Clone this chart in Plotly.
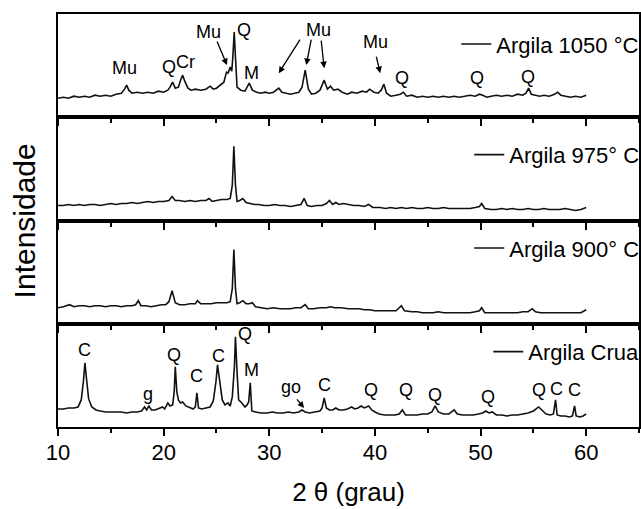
import plotly.graph_objects as go
from plotly.subplots import make_subplots

# ---------------- data (2θ in degrees, intensity in arbitrary units) ----------------
tt_1050 = [10.0, 10.5, 11.0, 11.5, 12.0, 12.5, 13.0, 13.5, 14.0, 14.5, 15.0, 15.5, 16.0, 16.3, 16.5, 16.7, 17.0, 17.5,
           18.0, 18.5, 19.0, 19.5, 20.0, 20.4, 20.6, 20.85, 21.1, 21.4, 21.6, 21.8, 22.0, 22.3, 22.6, 23.0, 23.5, 24.0,
           24.4, 24.7, 25.0, 25.4, 25.7, 25.95, 26.1, 26.3, 26.45, 26.55, 26.68, 26.8, 26.95, 27.3, 27.7, 28.1, 28.4,
           28.8, 29.2, 29.6, 30.0, 30.4, 30.9, 31.2, 31.6, 32.0, 32.4, 32.8, 33.1, 33.4, 33.7, 34.0, 34.4, 34.8, 35.2,
           35.5, 35.8, 36.1, 36.5, 36.9, 37.4, 37.8, 38.3, 38.8, 39.2, 39.5, 39.9, 40.3, 40.6, 40.85, 41.1, 41.5, 42.0,
           42.4, 42.7, 43.0, 43.5, 44.0, 44.5, 45.0, 45.5, 46.0, 46.5, 47.0, 47.5, 48.0, 48.5, 49.0, 49.5, 49.9, 50.2,
           50.6, 51.0, 51.5, 52.0, 52.5, 53.0, 53.5, 54.0, 54.3, 54.55, 54.8, 55.2, 55.6, 56.0, 56.5, 57.0, 57.3, 57.6,
           58.0, 58.5, 59.0, 59.5, 60.0]
i_1050 = [19, 20, 19, 21, 20, 21, 20, 22, 21, 22, 21, 23, 24, 28, 32, 27, 24, 25,
          24, 25, 24, 26, 25, 27, 30, 35, 29, 30, 37, 42, 36, 29, 27, 28, 27, 28,
          31, 28, 29, 32, 35, 45, 44, 50, 46, 60, 85, 60, 30, 27, 26, 34, 27,
          25, 24, 25, 24, 25, 29, 25, 24, 23, 24, 25, 30, 47, 28, 23, 24, 27, 37,
          28, 31, 27, 28, 25, 23, 25, 24, 26, 25, 28, 25, 24, 27, 33, 24, 21, 22,
          23, 25, 21, 22, 20, 21, 20, 21, 20, 21, 20, 21, 20, 21, 22, 21, 23, 22,
          20, 21, 22, 21, 22, 21, 23, 22, 24, 29, 23, 22, 21, 22, 21, 23, 25, 22,
          21, 20, 21, 20, 22]

tt_975 = [10.0, 10.5, 11.0, 11.5, 12.0, 12.5, 13.0, 13.5, 14.0, 14.5, 15.0, 15.5, 16.0, 16.5, 17.0, 17.5, 18.0, 18.5,
          19.0, 19.5, 20.0, 20.5, 20.8, 21.1, 21.5, 22.0, 22.5, 23.0, 23.5, 24.0, 24.3, 24.6, 25.0, 25.5, 26.0, 26.3,
          26.5, 26.65, 26.8, 26.95, 27.2, 27.5, 27.8, 28.2, 28.6, 29.0, 29.5, 30.0, 30.5, 31.0, 31.5, 32.0, 32.5, 33.0,
          33.3, 33.6, 34.0, 34.5, 35.0, 35.4, 35.7, 36.0, 36.3, 36.6, 37.0, 37.5, 38.0, 38.5, 39.0, 39.4, 39.8, 40.5,
          41.0, 41.5, 42.0, 42.5, 43.0, 43.5, 44.0, 44.5, 45.0, 45.5, 46.0, 46.5, 47.0, 47.5, 48.0, 48.5, 49.0, 49.5,
          49.9, 50.1, 50.4, 51.0, 51.5, 52.0, 52.5, 53.0, 53.5, 54.0, 54.5, 55.0, 55.5, 56.0, 56.5, 57.0, 57.5, 58.0,
          58.5, 59.0, 59.5, 60.0]
i_975 = [15, 15, 16, 15, 16, 15, 16, 16, 15, 16, 17, 16, 17, 17, 18, 17, 18, 19,
         18, 19, 19, 20, 24, 20, 20, 19, 20, 19, 20, 20, 22, 19, 20, 21, 21, 22,
         35, 74, 35, 19, 20, 22, 18, 17, 16, 16, 15, 15, 16, 15, 15, 14, 15, 16,
         22, 15, 14, 15, 15, 17, 20, 16, 18, 16, 17, 16, 15, 15, 14, 16, 13, 13,
         12, 13, 12, 13, 12, 13, 12, 12, 13, 12, 12, 13, 12, 12, 12, 12, 12, 13,
         14, 17, 12, 11, 11, 12, 11, 12, 11, 11, 12, 11, 11, 12, 11, 11, 11, 12,
         11, 10, 11, 13]

tt_900 = [10.0, 10.5, 11.1, 11.5, 12.0, 12.5, 13.0, 13.5, 14.0, 14.5, 15.0, 15.5, 16.0, 16.5, 17.0, 17.35, 17.6, 17.85,
          18.3, 18.8, 19.3, 19.8, 20.2, 20.5, 20.8, 21.1, 21.5, 22.0, 22.5, 23.0, 23.2, 23.5, 24.0, 24.5, 25.0, 25.5,
          26.0, 26.3, 26.5, 26.65, 26.8, 26.95, 27.2, 27.5, 27.8, 28.1, 28.4, 28.7, 29.2, 29.8, 30.4, 31.0, 31.5, 32.0,
          32.5, 33.0, 33.4, 33.7, 34.2, 34.8, 35.4, 35.8, 36.2, 36.8, 37.5, 38.0, 38.5, 39.0, 39.5, 40.0, 40.5, 41.0,
          41.5, 42.0, 42.5, 42.8, 43.5, 44.0, 44.5, 45.0, 45.5, 46.0, 46.5, 47.0, 47.5, 48.0, 48.5, 49.0, 49.5, 49.9,
          50.1, 50.4, 51.0, 51.5, 52.0, 52.5, 53.0, 53.5, 54.0, 54.5, 54.9, 55.2, 55.7, 56.5, 57.0, 57.5, 58.0, 58.5,
          59.0, 59.5, 60.0]
i_900 = [16, 17, 19, 17, 18, 18, 17, 18, 18, 17, 18, 18, 17, 18, 18, 19, 23, 18,
         18, 17, 18, 19, 19, 22, 33, 21, 19, 19, 20, 20, 23, 20, 20, 20, 21, 21,
         21, 22, 35, 74, 35, 20, 21, 23, 20, 20, 21, 17, 16, 15, 16, 15, 15, 15,
         16, 16, 19, 15, 15, 16, 16, 17, 16, 16, 15, 15, 15, 14, 14, 13, 13, 13,
         13, 13, 18, 13, 12, 12, 11, 11, 11, 12, 11, 11, 11, 11, 11, 11, 12, 13,
         16, 11, 11, 11, 11, 11, 11, 11, 12, 12, 15, 12, 11, 11, 11, 11, 11, 11,
         11, 11, 14]

tt_crua = [10.0, 10.5, 11.0, 11.5, 11.9, 12.2, 12.4, 12.55, 12.7, 12.9, 13.2, 13.6, 14.0, 14.5, 15.0, 15.5, 16.0, 16.5,
           17.0, 17.5, 17.9, 18.2, 18.4, 18.6, 18.85, 19.2, 19.6, 19.9, 20.1, 20.4, 20.6, 20.85, 21.0, 21.1, 21.25, 21.4,
           21.6, 21.8, 22.1, 22.5, 22.8, 23.0, 23.15, 23.3, 23.6, 24.0, 24.4, 24.7, 24.95, 25.1, 25.3, 25.55, 25.8, 26.1,
           26.3, 26.5, 26.7, 26.8, 26.95, 27.1, 27.4, 27.7, 27.9, 28.05, 28.2, 28.35, 28.7, 29.2, 29.8, 30.3, 30.8, 31.3,
           31.8, 32.3, 32.8, 33.1, 33.4, 33.8, 34.3, 34.8, 35.0, 35.2, 35.4, 35.7, 36.0, 36.3, 36.6, 37.0, 37.4, 37.8,
           38.1, 38.4, 38.7, 39.0, 39.4, 39.7, 40.0, 40.4, 40.9, 41.4, 41.9, 42.3, 42.6, 42.9, 43.4, 44.0, 44.5, 45.0,
           45.4, 45.7, 46.0, 46.5, 47.0, 47.5, 47.8, 48.3, 48.8, 49.3, 49.8, 50.2, 50.5, 50.8, 51.1, 51.5, 52.0, 52.5,
           53.0, 53.5, 54.0, 54.5, 55.0, 55.5, 55.8, 56.2, 56.6, 56.9, 57.1, 57.25, 57.6, 58.0, 58.4, 58.7, 58.9, 59.05,
           59.4, 59.7, 60.0]
i_crua = [18, 18, 19, 19, 20, 27, 45, 64, 48, 28, 20, 17, 16, 15, 15, 15, 15, 14,
          15, 15, 16, 20, 17, 21, 17, 17, 19, 20, 18, 24, 21, 22, 35, 60, 35, 27,
          24, 25, 21, 19, 18, 20, 34, 19, 18, 19, 20, 26, 45, 62, 45, 27, 22, 24,
          21, 30, 60, 90, 55, 27, 24, 20, 22, 25, 44, 16, 15, 14, 14, 15, 14, 14,
          15, 14, 15, 17, 15, 14, 15, 16, 19, 29, 19, 17, 17, 19, 17, 17, 18, 20,
          18, 19, 21, 19, 21, 17, 15, 13, 12, 12, 12, 13, 17, 12, 12, 12, 13, 13,
          15, 21, 15, 13, 13, 17, 13, 12, 12, 12, 13, 14, 16, 14, 15, 12, 12, 11,
          12, 12, 13, 14, 16, 20, 17, 13, 12, 13, 27, 12, 11, 11, 10, 11, 21, 11,
          10, 11, 13]

sample_names = ["Argila 1050 °C", "Argila 975° C", "Argila 900° C", "Argila Crua"]

# phase labels: (text, 2θ, intensity)
labels_1050 = [("Mu", 16.3, 49), ("Q", 20.5, 50), ("Cr", 22.1, 55), ("Mu", 24.2, 85), ("Q", 27.6, 87),
               ("M", 28.3, 44), ("Mu", 34.7, 87), ("Mu", 40.1, 75), ("Q", 42.6, 39), ("Q", 49.7, 39),
               ("Q", 54.5, 40)]
# arrows: (tail 2θ, tail intensity, head 2θ, head intensity)
arrows_1050 = [(25.0, 77, 26.0, 52), (33.0, 79, 30.9, 44), (34.0, 79, 33.5, 52), (34.9, 78, 35.2, 49),
               (40.1, 62, 40.5, 44)]
labels_crua = [("C", 12.5, 77), ("g", 18.5, 33), ("Q", 21.0, 72), ("C", 23.1, 51), ("C", 25.2, 71),
               ("Q", 27.7, 93), ("M", 28.3, 57), ("go", 32.1, 40), ("C", 35.2, 42), ("Q", 39.6, 37),
               ("Q", 42.9, 37), ("Q", 45.7, 32), ("Q", 50.7, 30), ("Q", 55.5, 37), ("C", 57.2, 38),
               ("C", 58.9, 37)]
arrows_crua = [(32.5, 29, 33.3, 19)]

# ---------------- figure ----------------
FONT = "Liberation Sans, Arial, Helvetica, sans-serif"
series = [(tt_1050, i_1050), (tt_975, i_975), (tt_900, i_900), (tt_crua, i_crua)]
legend_keys = ["legend", "legend2", "legend3", "legend4"]
legend_y = [0.927, 0.659, 0.433, 0.182]

fig = make_subplots(rows=4, cols=1, vertical_spacing=0)

for k, ((x, y), name) in enumerate(zip(series, sample_names)):
    fig.add_trace(go.Scatter(x=x, y=y, mode="lines", name=name,
                             line=dict(color="#111111", width=1.6),
                             legend=legend_keys[k], showlegend=True),
                  row=k + 1, col=1)

for k in range(4):
    fig.update_xaxes(range=[10, 65], tick0=10, dtick=10, ticks="outside", ticklen=7, tickwidth=1.5,
                     tickcolor="black", minor=dict(dtick=5, ticks="outside", ticklen=4, tickwidth=1.5,
                                                   tickcolor="black"),
                     showline=True, mirror=True, linewidth=2, linecolor="black",
                     showgrid=False, zeroline=False, showticklabels=(k == 3),
                     ticklabelstandoff=-2,
                     tickfont=dict(size=22, family=FONT, color="black"),
                     row=k + 1, col=1)
    fig.update_yaxes(range=[0, 103], showticklabels=False, ticks="", showline=True, mirror=True,
                     linewidth=2, linecolor="black", showgrid=False, zeroline=False,
                     row=k + 1, col=1)

fig.update_xaxes(title=dict(text="2 θ (grau)", font=dict(size=26, family=FONT, color="black"), standoff=18),
                 row=4, col=1)

layout_legends = {}
for k, key in enumerate(legend_keys):
    layout_legends[key] = dict(x=1.009, y=legend_y[k], xanchor="right", yanchor="middle",
                               bgcolor="rgba(0,0,0,0)", borderwidth=0,
                               font=dict(size=22, family=FONT, color="black"))
fig.update_layout(**layout_legends)

annotations = []
def add_labels(labels, xref, yref):
    for txt, xx, yy in labels:
        annotations.append(dict(x=xx, y=yy, xref=xref, yref=yref, text=txt, showarrow=False,
                                font=dict(size=18, family=FONT, color="black")))

def add_arrows(arrs, xref, yref):
    for x0, y0, x1, y1 in arrs:
        annotations.append(dict(x=x1, y=y1, ax=x0, ay=y0, xref=xref, yref=yref, axref=xref, ayref=yref,
                                text="", showarrow=True, arrowhead=2, arrowsize=1, arrowwidth=1.3,
                                arrowcolor="black"))

add_labels(labels_1050, "x", "y")
add_arrows(arrows_1050, "x", "y")
add_labels(labels_crua, "x4", "y4")
add_arrows(arrows_crua, "x4", "y4")

annotations.append(dict(x=-0.057, y=0.5, xref="paper", yref="paper", text="Intensidade", textangle=-90,
                        showarrow=False, xanchor="center", yanchor="middle",
                        font=dict(size=30, family=FONT, color="black")))

fig.update_layout(width=641, height=509, margin=dict(l=58, r=2, t=14, b=82, autoexpand=False),
                  paper_bgcolor="white", plot_bgcolor="white",
                  font=dict(family=FONT, color="black"),
                  annotations=annotations)

# remove the browser's default page margin so the 641x509 figure fills the window exactly
fig.write_html("out.html", config={"displayModeBar": False},
               post_script="document.body.style.margin='0';document.body.style.overflow='hidden';")
